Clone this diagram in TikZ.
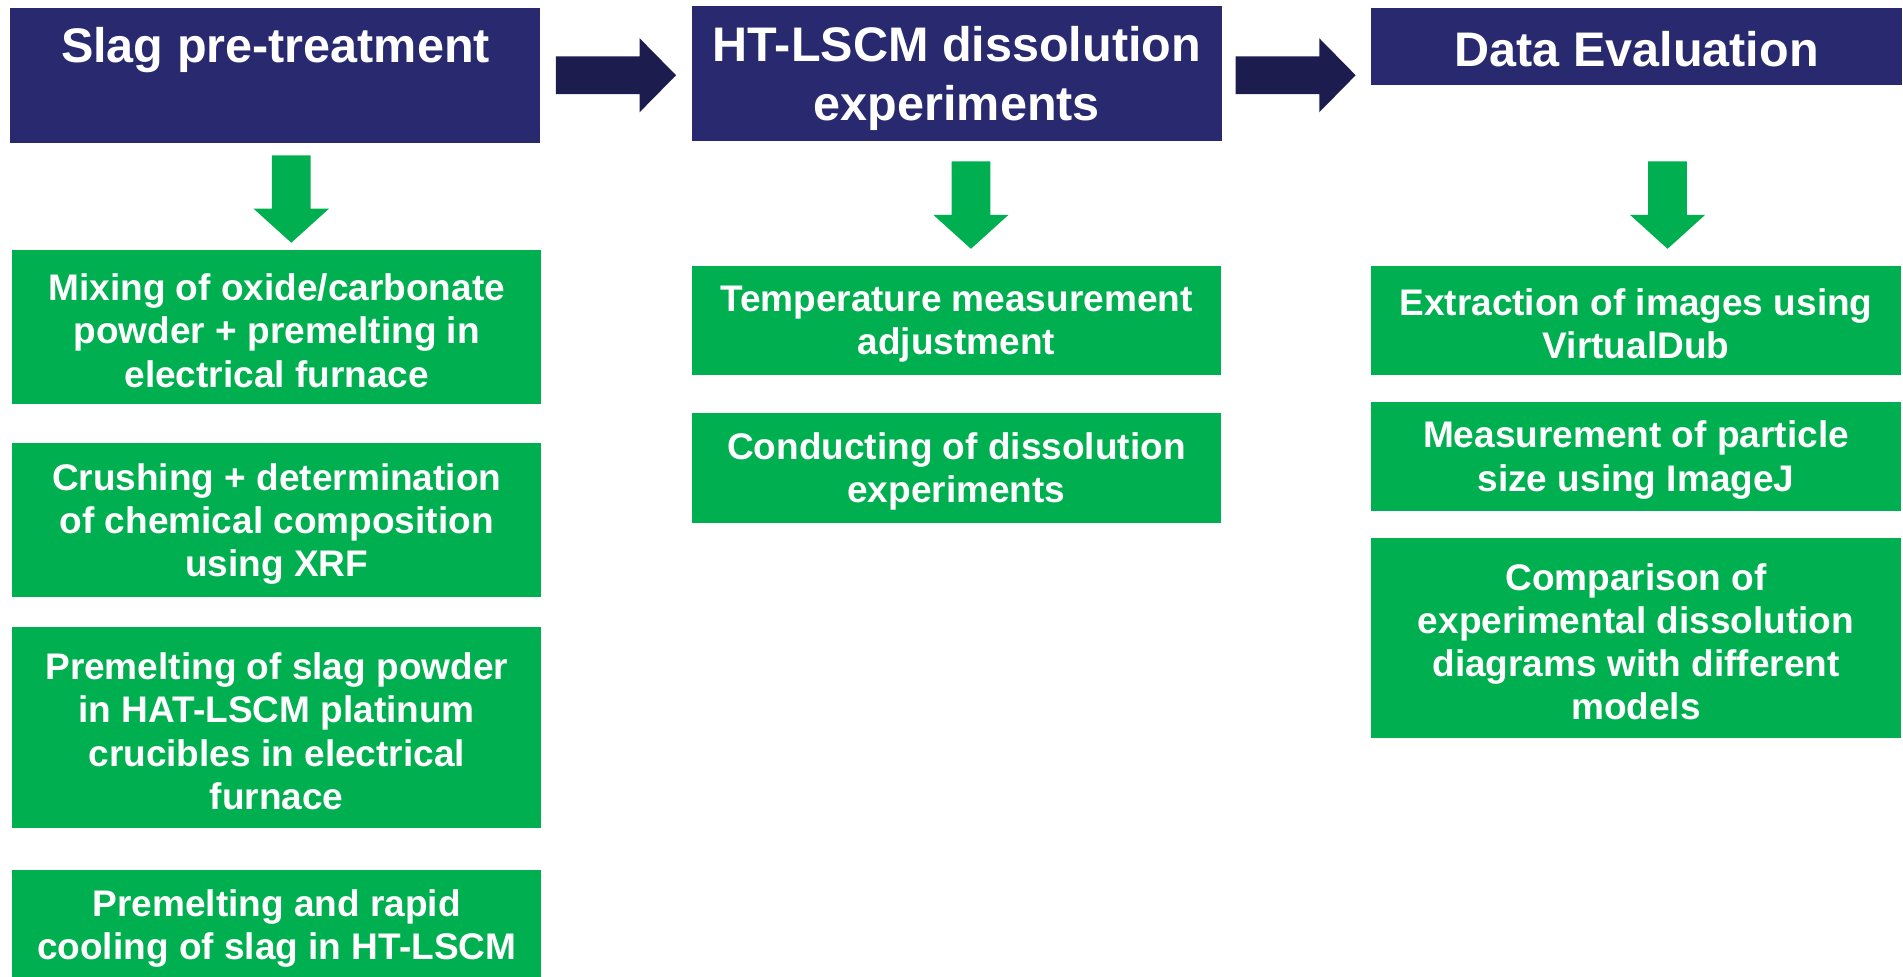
\documentclass[tikz,border=0pt]{standalone}
\usepackage{fontspec}
\setmainfont{Liberation Sans}
\definecolor{navy}{HTML}{29296F}
\definecolor{darknavy}{HTML}{1C1C4E}
\definecolor{grn}{HTML}{00B050}
\begin{document}
\begin{tikzpicture}[x=1pt,y=-1pt,
  headbox/.style={fill=navy, inner sep=0pt, outer sep=0pt, anchor=north west, minimum width=437pt},
  headtext/.style={text=white, font=\bfseries\fontsize{40}{49}\selectfont, align=center, inner sep=0pt},
  gbox/.style={fill=grn, inner sep=0pt, outer sep=0pt, anchor=north west, minimum width=436pt},
  gtext/.style={text=white, font=\bfseries\fontsize{30.5}{35.5}\selectfont, align=center, inner sep=0pt},
  rarr/.pic={\fill[darknavy] (0,-15.5) -- (69,-15.5) -- (69,-30.5) -- (99,0) -- (69,30.5) -- (69,15.5) -- (0,15.5) -- cycle;},
  darr/.pic={\fill[grn] (-16,0) -- (16,0) -- (16,44) -- (31,44) -- (0,72) -- (-31,44) -- (-16,44) -- cycle;}
]
\useasboundingbox (0,0) rectangle (1568,805);

% header boxes
\node[headbox, minimum height=111pt] (b1) at (8,7) {};
\node[headtext] (t1) at (227,41) {Slag pre-treatment};
\node[headbox, minimum height=111pt] (b2) at (570,5) {};
\node[headtext] (t2) at ([yshift=-4pt]b2.center) {HT-LSCM dissolution\\experiments};
\node[headbox, minimum height=63pt] (b3) at (1130,7) {};
\node[headtext] (t3) at ([yshift=-2pt]b3.center) {Data Evaluation};

% arrows between headers
\pic at (458,62) {rarr};
\pic at (1018,62) {rarr};

% down arrows
\pic at (240,128) {darr};
\pic at (800,133) {darr};
\pic at (1374,133) {darr};

% column 1
\node[gbox, minimum height=127pt] (g1) at (10,206) {};
\node[gtext] at ([yshift=-3pt]g1.center) {Mixing of oxide/carbonate\\powder + premelting in\\electrical furnace};
\node[gbox, minimum height=127pt] (g2) at (10,365) {};
\node[gtext] at ([yshift=-3pt]g2.center) {Crushing + determination\\of chemical composition\\using XRF};
\node[gbox, minimum height=165pt] (g3) at (10,517) {};
\node[gtext] at ([yshift=-3pt]g3.center) {Premelting of slag powder\\in HAT-LSCM platinum\\crucibles in electrical\\furnace};
\node[gbox, minimum height=92pt] (g4) at (10,717) {};
\node[gtext] at ([yshift=-2pt]g4.center) {Premelting and rapid\\cooling of slag in HT-LSCM};

% column 2
\node[gbox, minimum height=90pt] (g5) at (570,219) {};
\node[gtext] at ([yshift=-3pt]g5.center) {Temperature measurement\\adjustment};
\node[gbox, minimum height=91pt] (g6) at (570,340) {};
\node[gtext] at ([yshift=-3pt]g6.center) {Conducting of dissolution\\experiments};

% column 3
\node[gbox, minimum height=90pt] (g7) at (1130,219) {};
\node[gtext] at ([yshift=-3pt]g7.center) {Extraction of images using\\VirtualDub};
\node[gbox, minimum height=90pt] (g8) at (1130,331) {};
\node[gtext] at ([yshift=-3pt]g8.center) {Measurement of particle\\size using ImageJ};
\node[gbox, minimum height=165pt] (g9) at (1130,443) {};
\node[gtext] at ([yshift=-3pt]g9.center) {Comparison of\\experimental dissolution\\diagrams with different\\models};
\end{tikzpicture}
\end{document}
